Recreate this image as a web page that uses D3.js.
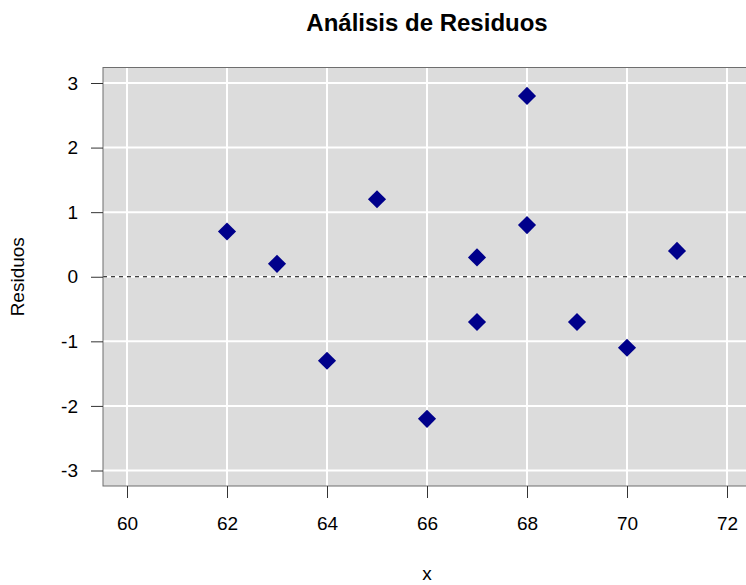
<!DOCTYPE html>
<html>
<head>
<meta charset="utf-8">
<script src="https://cdn.jsdelivr.net/npm/d3@7"></script>
<style>
  html, body { margin: 0; padding: 0; background: #ffffff; }
  svg { display: block; font-family: "Liberation Sans", Arial, sans-serif; }
</style>
</head>
<body>
<svg id="chart" width="746" height="585"></svg>
<script>
// Fitted x values and their residuals
const xValues = [62, 63, 64, 65, 66, 67, 67, 68, 68, 69, 70, 71];
const residuals = [0.7, 0.2, -1.3, 1.2, -2.2, 0.3, -0.7, 2.8, 0.8, -0.7, -1.1, 0.4];
const xTicks = [60, 62, 64, 66, 68, 70, 72];
const yTicks = [-3, -2, -1, 0, 1, 2, 3];

const svg = d3.select("#chart");

// Plot region (axis limits padded by 4% like base R graphics)
const plotLeft = 103, plotRight = 751, plotTop = 67.5, plotBottom = 486;
const xPad = (72 - 60) * 0.04, yPad = (3 - -3) * 0.04;

const x = d3.scaleLinear().domain([60 - xPad, 72 + xPad]).range([plotLeft, plotRight]);
const y = d3.scaleLinear().domain([-3 - yPad, 3 + yPad]).range([plotBottom, plotTop]);

const labelSize = 19;

// Panel background
svg.append("rect")
  .attr("x", plotLeft).attr("y", plotTop)
  .attr("width", plotRight - plotLeft).attr("height", plotBottom - plotTop)
  .attr("fill", "#dcdcdc");

// White grid
const grid = svg.append("g");
grid.selectAll("line.vx").data(xTicks).join("line")
  .attr("x1", d => x(d)).attr("x2", d => x(d))
  .attr("y1", plotTop).attr("y2", plotBottom)
  .attr("stroke", "#ffffff").attr("stroke-width", 2);
grid.selectAll("line.hy").data(yTicks).join("line")
  .attr("x1", plotLeft).attr("x2", plotRight)
  .attr("y1", d => y(d)).attr("y2", d => y(d))
  .attr("stroke", "#ffffff").attr("stroke-width", 2);

// Zero reference line
svg.append("line")
  .attr("x1", plotLeft).attr("x2", plotRight)
  .attr("y1", y(0)).attr("y2", y(0))
  .attr("stroke", "#000000").attr("stroke-width", 1)
  .attr("stroke-dasharray", "4,4");

// Residual points as diamonds
const sym = d3.symbol().type(d3.symbolSquare).size(12.8 * 12.8);
svg.append("g").selectAll("path").data(xValues).join("path")
  .attr("d", sym)
  .attr("transform", (d, i) => `translate(${x(d)},${y(residuals[i])}) rotate(45)`)
  .attr("fill", "#00008b");

// Frame
svg.append("rect")
  .attr("x", plotLeft).attr("y", plotTop)
  .attr("width", plotRight - plotLeft).attr("height", plotBottom - plotTop)
  .attr("fill", "none").attr("stroke", "#6e6e6e").attr("stroke-width", 1);

// Axes
const xAxis = d3.axisBottom(x).tickValues(xTicks).tickSize(12).tickPadding(19).tickFormat(d3.format("d"));
const yAxis = d3.axisLeft(y).tickValues(yTicks).tickSize(12).tickPadding(13).tickFormat(d3.format("d"));

const gx = svg.append("g").attr("transform", `translate(0,${plotBottom})`).call(xAxis);
const gy = svg.append("g").attr("transform", `translate(${plotLeft},0)`).call(yAxis);
[gx, gy].forEach(g => {
  g.select(".domain").remove();
  g.selectAll(".tick line").attr("stroke", "#333333");
  g.selectAll(".tick text")
    .attr("font-family", "'Liberation Sans', Arial, sans-serif")
    .attr("font-size", labelSize).attr("fill", "#000000");
});
gy.selectAll(".tick text").text(d => d < 0 ? "-" + Math.abs(d) : d);

// Title and axis labels
svg.append("text")
  .attr("x", (plotLeft + plotRight) / 2).attr("y", 31)
  .attr("text-anchor", "middle")
  .attr("font-size", 24).attr("font-weight", "bold")
  .text("Análisis de Residuos");

svg.append("text")
  .attr("x", (plotLeft + plotRight) / 2).attr("y", 580)
  .attr("text-anchor", "middle")
  .attr("font-size", labelSize)
  .text("x");

svg.append("text")
  .attr("transform", `translate(24,${y(0)}) rotate(-90)`)
  .attr("text-anchor", "middle")
  .attr("font-size", labelSize)
  .text("Residuos");
</script>
</body>
</html>
